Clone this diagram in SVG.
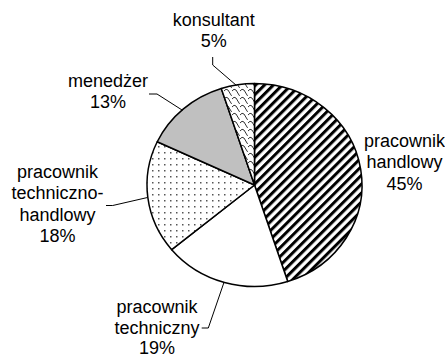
<svg xmlns="http://www.w3.org/2000/svg" width="445" height="358" viewBox="0 0 445 358">
<style>
text{font-family:"Liberation Sans",Arial,sans-serif;font-size:18px;fill:#000;text-anchor:middle}
.slice{stroke:#000;stroke-width:1.5;stroke-linejoin:round}
.lead{fill:none;stroke:#000;stroke-width:1}
</style>
<defs>
<pattern id="stripes" width="6.3" height="6.3" patternUnits="userSpaceOnUse" patternTransform="rotate(45)">
<rect width="6.3" height="6.3" fill="#fff"/>
<rect width="3" height="6.3" fill="#000"/>
</pattern>
<pattern id="dots" width="6" height="6" patternUnits="userSpaceOnUse">
<rect width="6" height="6" fill="#fff"/>
<rect x="2" y="2" width="1.5" height="1.5" fill="#555"/>
</pattern>
<pattern id="shingle" width="8" height="8" patternUnits="userSpaceOnUse">
<rect width="8" height="8" fill="#fff"/>
<path d="M0,3 Q2,0 4,2 L7,7 Q7.5,8 8,8" fill="none" stroke="#333" stroke-width="1"/>
</pattern>
</defs>
<g id="slices">
<g id="handlowy"><path class="slice" fill="url(#stripes)" d="M254.5,185 L254.5,83.5 A107.5,101.5 0 0 1 287.72,281.53 Z"/></g>
<g id="techniczny"><path class="slice" fill="#fff" d="M254.5,185 L287.72,281.53 A107.5,101.5 0 0 1 171.67,249.7 Z"/></g>
<g id="techniczno-handlowy"><path class="slice" fill="url(#dots)" d="M254.5,185 L171.67,249.7 A107.5,101.5 0 0 1 157.23,141.78 Z"/></g>
<g id="menedzer"><path class="slice" fill="#c0c0c0" d="M254.5,185 L157.23,141.78 A107.5,101.5 0 0 1 221.28,88.47 Z"/></g>
<g id="konsultant"><path class="slice" fill="url(#shingle)" d="M254.5,185 L221.28,88.47 A107.5,101.5 0 0 1 254.5,83.5 Z"/></g>
</g>
<g id="connectors">
<path class="lead" d="M212.7,57 L212.7,65 L236.5,85.5"/>
<path class="lead" d="M149,94 L157,94 L182.5,110.3"/>
<path class="lead" d="M106,205.5 L112.7,205.5 L147.5,197.5"/>
<path class="lead" d="M201.7,328 L208.3,328 L224,282.3"/>
</g>
<g id="label-konsultant"><text x="213.7" y="25.5">konsultant</text><text x="213.7" y="47">5%</text></g>
<g id="label-menedzer"><text x="108" y="86.5">menedżer</text><text x="108" y="108">13%</text></g>
<g id="label-handlowy"><text x="404.5" y="146.5">pracownik</text><text x="404.5" y="168">handlowy</text><text x="404.5" y="189.5">45%</text></g>
<g id="label-techniczno-handlowy"><text x="57.5" y="177.5">pracownik</text><text x="57.5" y="199">techniczno-</text><text x="57.5" y="220.5">handlowy</text><text x="57.5" y="242">18%</text></g>
<g id="label-techniczny"><text x="157" y="313">pracownik</text><text x="157" y="334">techniczny</text><text x="157" y="353.5">19%</text></g>
</svg>
